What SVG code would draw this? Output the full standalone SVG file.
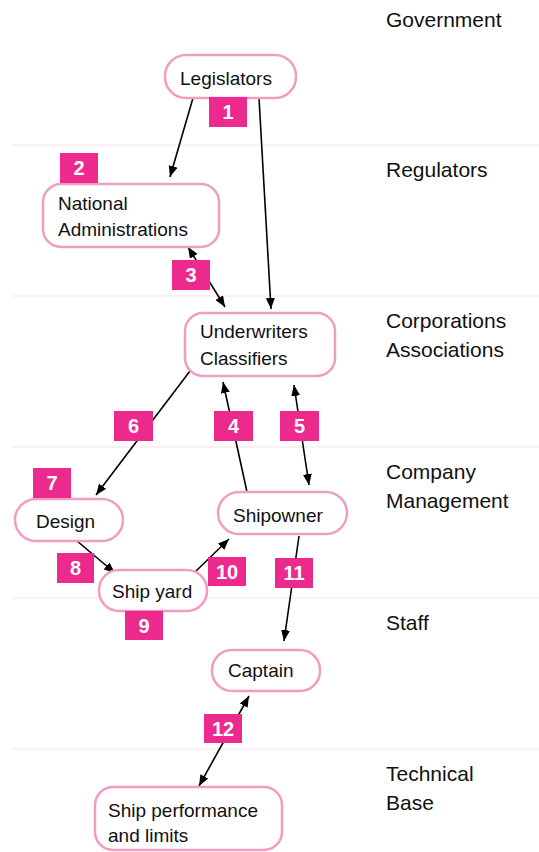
<svg xmlns="http://www.w3.org/2000/svg" width="539" height="852" viewBox="0 0 539 852">
  <style>
    .band { stroke: #fbe1eb; stroke-width: 1.2; }
    .tier { font-family: "Liberation Sans", Arial, sans-serif; font-size: 21px; fill: #111; }
    .box { fill: #fff; stroke: #f39cc3; stroke-width: 2.5; }
    .lbl { font-family: "Liberation Sans", Arial, sans-serif; font-size: 19px; fill: #111; }
    .edge { stroke: #000; stroke-width: 1.6; fill: none; marker-end: url(#head); }
    .both { marker-start: url(#head); }
    .tag rect { fill: #ec2a8e; }
    .tag text { font-family: "Liberation Sans", Arial, sans-serif; font-size: 20px; font-weight: bold; fill: #fff; text-anchor: middle; }
  </style>
  <defs>
    <marker id="head" markerUnits="userSpaceOnUse" markerWidth="11" markerHeight="9" refX="11" refY="4.5" orient="auto-start-reverse">
      <path d="M0,0 L11,4.5 L0,9 z" fill="#000"/>
    </marker>
  </defs>

  <rect width="539" height="852" fill="#fff"/>

  <!-- tier separators -->
  <g id="bands">
    <line class="band" x1="12" y1="145" x2="539" y2="145"/>
    <line class="band" x1="12" y1="296" x2="539" y2="296"/>
    <line class="band" x1="12" y1="447" x2="539" y2="447"/>
    <line class="band" x1="12" y1="598" x2="539" y2="598"/>
    <line class="band" x1="12" y1="749" x2="539" y2="749"/>
  </g>

  <!-- tier names -->
  <g id="tiers">
    <text class="tier" x="386" y="27">Government</text>
    <text class="tier" x="386" y="177">Regulators</text>
    <text class="tier" x="386" y="328">Corporations</text>
    <text class="tier" x="386" y="357">Associations</text>
    <text class="tier" x="386" y="479">Company</text>
    <text class="tier" x="386" y="508">Management</text>
    <text class="tier" x="386" y="630">Staff</text>
    <text class="tier" x="386" y="781">Technical</text>
    <text class="tier" x="386" y="810">Base</text>
  </g>

  <!-- connectors -->
  <g id="connectors">
    <line class="edge" x1="193" y1="98" x2="170" y2="177"/>
    <line class="edge" x1="259" y1="98" x2="271" y2="309"/>
    <line class="edge both" x1="188" y1="247" x2="225" y2="307"/>
    <line class="edge" x1="247" y1="492" x2="223" y2="382"/>
    <line class="edge both" x1="294" y1="385" x2="309" y2="485"/>
    <line class="edge" x1="190" y1="371" x2="96" y2="495"/>
    <line class="edge" x1="77" y1="541" x2="115" y2="573"/>
    <line class="edge" x1="193" y1="574" x2="229" y2="539"/>
    <line class="edge" x1="299" y1="536" x2="284" y2="641"/>
    <line class="edge both" x1="249" y1="696" x2="199" y2="786"/>
  </g>

  <!-- nodes -->
  <g id="legislators">
    <rect class="box" x="165" y="55" width="131" height="43" rx="21"/>
    <text class="lbl" x="180" y="85">Legislators</text>
  </g>
  <g id="national-administrations">
    <rect class="box" x="43" y="184" width="176" height="63" rx="18"/>
    <text class="lbl" x="58" y="210">National</text>
    <text class="lbl" x="58" y="236">Administrations</text>
  </g>
  <g id="underwriters-classifiers">
    <rect class="box" x="185" y="313" width="150" height="63" rx="18"/>
    <text class="lbl" x="200" y="338">Underwriters</text>
    <text class="lbl" x="200" y="365">Classifiers</text>
  </g>
  <g id="design">
    <rect class="box" x="15" y="499" width="108" height="42" rx="21"/>
    <text class="lbl" x="36" y="528">Design</text>
  </g>
  <g id="shipowner">
    <rect class="box" x="218" y="492" width="129" height="42" rx="21"/>
    <text class="lbl" x="233" y="522">Shipowner</text>
  </g>
  <g id="ship-yard">
    <rect class="box" x="99" y="570" width="108" height="41" rx="20"/>
    <text class="lbl" x="112" y="598">Ship yard</text>
  </g>
  <g id="captain">
    <rect class="box" x="212" y="650" width="108" height="41" rx="20"/>
    <text class="lbl" x="228" y="677">Captain</text>
  </g>
  <g id="ship-performance">
    <rect class="box" x="95" y="787" width="187" height="63" rx="18"/>
    <text class="lbl" x="108" y="817">Ship performance</text>
    <text class="lbl" x="108" y="842">and limits</text>
  </g>

  <!-- numbered tags -->
  <g id="tags" class="tag">
    <rect x="209" y="97" width="38" height="30"/><text x="228" y="119">1</text>
    <rect x="60" y="153" width="38" height="30"/><text x="79" y="175">2</text>
    <rect x="172" y="260" width="38" height="30"/><text x="191" y="282">3</text>
    <rect x="214" y="411" width="39" height="30"/><text x="233.5" y="433">4</text>
    <rect x="280" y="411" width="39" height="30"/><text x="299.5" y="433">5</text>
    <rect x="114" y="411" width="39" height="30"/><text x="133.5" y="433">6</text>
    <rect x="33" y="468" width="38" height="30"/><text x="52" y="490">7</text>
    <rect x="57" y="553" width="37" height="30"/><text x="75.5" y="575">8</text>
    <rect x="125" y="611" width="38" height="29"/><text x="144" y="633">9</text>
    <rect x="208" y="557" width="38" height="29"/><text x="227" y="579">10</text>
    <rect x="275" y="558" width="38" height="30"/><text x="294" y="580">11</text>
    <rect x="204" y="714" width="38" height="29"/><text x="223" y="736">12</text>
  </g>
</svg>
